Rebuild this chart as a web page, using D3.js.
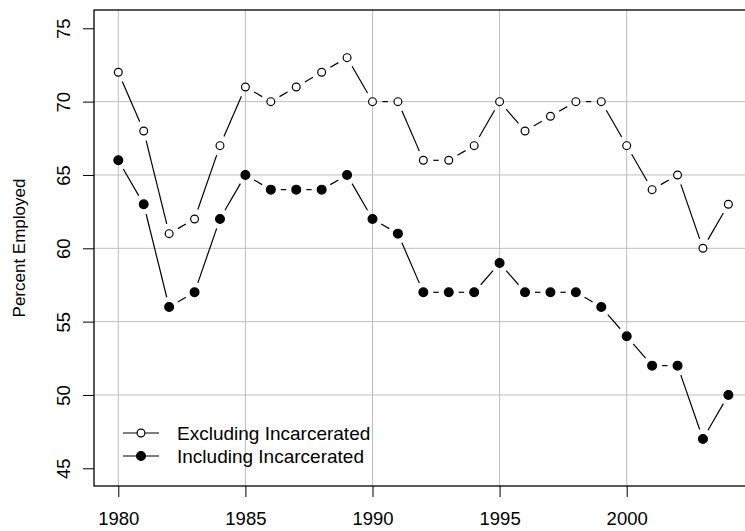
<!DOCTYPE html>
<html>
<head>
<meta charset="utf-8">
<script src="https://cdn.jsdelivr.net/npm/d3@7/dist/d3.min.js"></script>
<style>
  body { margin: 0; background: #fff; }
  svg { display: block; font-family: "Liberation Sans", Arial, sans-serif; }
</style>
</head>
<body>
<svg id="chart" width="745" height="531"></svg>
<script>
const years = d3.range(1980, 2005);
const excluding = [72, 68, 61, 62, 67, 71, 70, 71, 72, 73, 70, 70, 66, 66, 67, 70, 68, 69, 70, 70, 67, 64, 65, 60, 63];
const including = [66, 63, 56, 57, 62, 65, 64, 64, 64, 65, 62, 61, 57, 57, 57, 59, 57, 57, 57, 56, 54, 52, 52, 47, 50];
const xTicks = [1980, 1985, 1990, 1995, 2000];
const yTicks = [45, 50, 55, 60, 65, 70, 75];
const gridY = [50, 55, 60, 65, 70];
const legendLabels = ["Excluding Incarcerated", "Including Incarcerated"];

const svg = d3.select("#chart");
const plotLeft = 94, plotTop = 10, plotBottom = 486, plotRight = 780;

// 1980 -> 118.3, 2000 -> 626.7
const x = d3.scaleLinear().domain([1980, 2000]).range([118.3, 626.7]);
// 75 -> 28.3, 45 -> 468.3
const y = d3.scaleLinear().domain([45, 75]).range([468.3, 28.3]);

// grid
svg.append("g")
  .selectAll("line")
  .data(xTicks)
  .join("line")
  .attr("x1", d => x(d)).attr("x2", d => x(d))
  .attr("y1", plotTop).attr("y2", plotBottom)
  .attr("stroke", "#bebebe").attr("stroke-width", 1);

svg.append("g")
  .selectAll("line")
  .data(gridY)
  .join("line")
  .attr("x1", plotLeft).attr("x2", plotRight)
  .attr("y1", d => y(d)).attr("y2", d => y(d))
  .attr("stroke", "#bebebe").attr("stroke-width", 1);

// box
svg.append("rect")
  .attr("x", plotLeft).attr("y", plotTop)
  .attr("width", plotRight - plotLeft).attr("height", plotBottom - plotTop)
  .attr("fill", "none").attr("stroke", "#000").attr("stroke-width", 1.3);

// axes
const xAxis = d3.axisBottom(x).tickValues(xTicks).tickSize(11).tickPadding(15).tickFormat(d3.format("d"));
const gx = svg.append("g").attr("transform", `translate(0,${plotBottom})`).call(xAxis);
gx.select(".domain").remove();
gx.selectAll("line").attr("stroke", "#000");
gx.selectAll("text").attr("font-size", 18.5).attr("fill", "#000")
  .attr("font-family", "Liberation Sans, Arial, sans-serif");

const yAxis = d3.axisLeft(y).tickValues(yTicks).tickSize(11).tickFormat(d3.format("d"));
const gy = svg.append("g").attr("transform", `translate(${plotLeft},0)`).call(yAxis);
gy.select(".domain").remove();
gy.selectAll("line").attr("stroke", "#000");
gy.selectAll("text")
  .attr("font-size", 18.5).attr("fill", "#000")
  .attr("font-family", "Liberation Sans, Arial, sans-serif")
  .attr("text-anchor", "middle")
  .attr("dy", 0)
  .attr("x", 0)
  .attr("transform", "translate(-24,0) rotate(-90)");

svg.append("text")
  .attr("transform", "translate(25,248) rotate(-90)")
  .attr("text-anchor", "middle")
  .attr("font-size", 17)
  .text("Percent Employed");

// series with type="b" gaps
const gap = 10;
function drawSeries(vals, filled) {
  const pts = years.map((yr, i) => [x(yr), y(vals[i])]);
  const segs = d3.pairs(pts).filter(([a, b]) => Math.hypot(b[0] - a[0], b[1] - a[1]) > 2 * gap);
  svg.append("g")
    .selectAll("line")
    .data(segs)
    .join("line")
    .each(function ([a, b]) {
      const L = Math.hypot(b[0] - a[0], b[1] - a[1]);
      const ux = (b[0] - a[0]) / L, uy = (b[1] - a[1]) / L;
      d3.select(this)
        .attr("x1", a[0] + ux * gap).attr("y1", a[1] + uy * gap)
        .attr("x2", b[0] - ux * gap).attr("y2", b[1] - uy * gap);
    })
    .attr("stroke", "#000").attr("stroke-width", 1.2);
  svg.append("g")
    .selectAll("circle")
    .data(pts)
    .join("circle")
    .attr("cx", d => d[0]).attr("cy", d => d[1])
    .attr("r", filled ? 4.4 : 3.9)
    .attr("fill", filled ? "#000" : "#fff")
    .attr("stroke", "#000").attr("stroke-width", 1.2);
}
drawSeries(excluding, false);
drawSeries(including, true);

// legend
const lg = svg.append("g");
legendLabels.forEach((lab, i) => {
  const ly = 433 + i * 23;
  lg.append("line").attr("x1", 123).attr("x2", 159).attr("y1", ly).attr("y2", ly)
    .attr("stroke", "#000").attr("stroke-width", 1.2);
  lg.append("circle").attr("cx", 141).attr("cy", ly)
    .attr("r", i === 0 ? 3.9 : 4.4)
    .attr("fill", i === 0 ? "#fff" : "#000")
    .attr("stroke", "#000").attr("stroke-width", 1.2);
  lg.append("text").attr("x", 177).attr("y", ly).attr("dy", "0.35em")
    .attr("font-size", 19).text(lab);
});
</script>
</body>
</html>
